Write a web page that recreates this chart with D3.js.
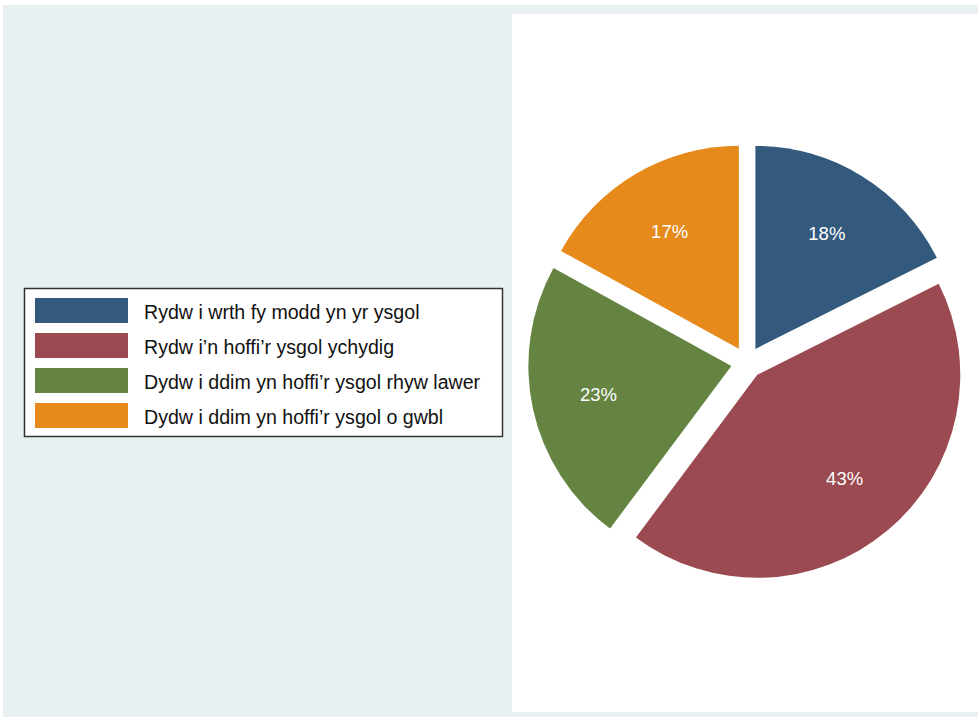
<!DOCTYPE html>
<html>
<head>
<meta charset="utf-8">
<script src="https://cdn.jsdelivr.net/npm/d3@7"></script>
<style>
  html, body { margin: 0; padding: 0; background: #ffffff; }
  svg { display: block; }
  text { font-family: "Liberation Sans", Arial, sans-serif; }
</style>
</head>
<body>
<svg id="chart" width="978" height="717"></svg>
<script>
// ---- data ----
const categories = [
  "Rydw i wrth fy modd yn yr ysgol",
  "Rydw i’n hoffi’r ysgol ychydig",
  "Dydw i ddim yn hoffi’r ysgol rhyw lawer",
  "Dydw i ddim yn hoffi’r ysgol o gwbl"
];
const values = [17.6, 42.6, 22.8, 17.0];
const colors = ["#335a7d", "#9a4a50", "#658442", "#e68a1c"];

// ---- layout ----
const svg = d3.select("#chart");
const W = 978, H = 717;

svg.append("rect").attr("x", 3).attr("y", 5).attr("width", W - 3).attr("height", H - 5)
  .attr("fill", "#e9f0f2");
svg.append("rect").attr("x", 512).attr("y", 14).attr("width", W - 512).attr("height", 698)
  .attr("fill", "#ffffff");

const cx = 747, cy = 362.5, R = 203, explode = 16, labelR = 136;

const pie = d3.pie().sort(null).value(d => d).startAngle(0).endAngle(2 * Math.PI);
const arcs = pie(values);
const arc = d3.arc().innerRadius(0).outerRadius(R);
const fmt = v => d3.format(".0f")(v) + "%";

const g = svg.append("g").attr("transform", `translate(${cx},${cy})`);
const slices = g.selectAll("g.slice").data(arcs).join("g").attr("class", "slice")
  .attr("transform", d => {
    const m = (d.startAngle + d.endAngle) / 2;
    return `translate(${explode * Math.sin(m)},${-explode * Math.cos(m)})`;
  });
slices.append("path").attr("d", arc).attr("fill", (d, i) => colors[i]);
slices.append("text")
  .attr("x", d => labelR * Math.sin((d.startAngle + d.endAngle) / 2))
  .attr("y", d => -labelR * Math.cos((d.startAngle + d.endAngle) / 2) + 6.5)
  .attr("text-anchor", "middle")
  .attr("font-size", 18.5)
  .attr("fill", "#ffffff")
  .text(d => fmt(d.data));

// ---- legend ----
const lg = svg.append("g");
lg.append("rect").attr("x", 24.5).attr("y", 288.5).attr("width", 478).attr("height", 148)
  .attr("fill", "#ffffff").attr("stroke", "#333333").attr("stroke-width", 1.5);
const rowScale = d3.scalePoint().domain(d3.range(categories.length)).range([298, 403]);
const rows = lg.selectAll("g.row").data(categories).join("g").attr("class", "row")
  .attr("transform", (d, i) => `translate(0,${rowScale(i)})`);
rows.append("rect").attr("x", 35).attr("y", 0).attr("width", 93).attr("height", 25)
  .attr("fill", (d, i) => colors[i]);
rows.append("text").attr("x", 144).attr("y", 20.5).attr("font-size", 19.6)
  .attr("fill", "#111111").text(d => d);
</script>
</body>
</html>
